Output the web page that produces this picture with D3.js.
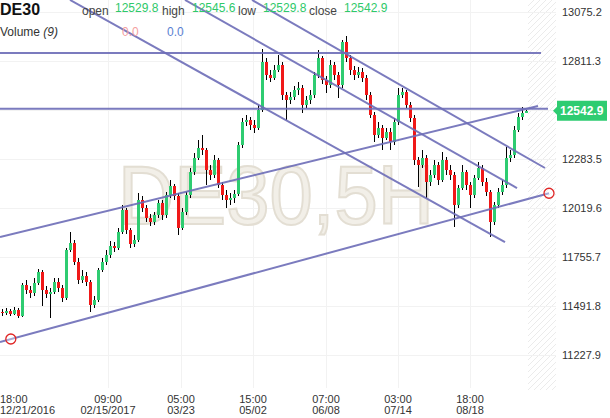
<!DOCTYPE html>
<html><head><meta charset="utf-8">
<script src="https://cdn.jsdelivr.net/npm/d3@7"></script>
<style>html,body{margin:0;padding:0;background:#fff;}svg{display:block;font-family:"Liberation Sans",Arial,sans-serif;}</style>
</head><body><svg id="c" width="610" height="418"></svg>
<script>
// ---- data (DE30, 5H candles) ----
const opens=[11460,11454,11465,11449,11470,11438,11605,11578,11562,11616,
11675,11578,11556,11567,11621,11589,11535,11793,11831,11729,
11632,11653,11621,11497,11524,11686,11729,11766,11815,11804,
11890,12009,11901,11826,11847,12063,12020,11966,11944,11982,
12047,11982,12090,12138,12084,11912,11998,12090,12213,12289,
12343,12332,12224,12197,12278,12143,12090,12063,12073,12095,
12359,12483,12494,12467,12450,12547,12806,12736,12720,12763,
12790,12628,12601,12617,12655,12666,12574,12601,12628,12736,
12827,12709,12682,12790,12736,12682,12914,12827,12763,12736,
12752,12720,12628,12520,12413,12450,12397,12429,12375,12483,
12628,12644,12574,12504,12278,12251,12289,12160,12197,12251,
12170,12278,12224,12197,12036,12127,12213,12143,12090,12181,
12235,12160,12106,11944,12036,12106,12143,12289,12305,12440,
12510,12529.8];
const highs=[11476,11481,11476,11486,11481,11616,11632,11600,11643,11691,
11686,11600,11589,11643,11643,11605,11804,11890,11847,11750,
11686,11675,11632,11546,11696,11750,11793,11842,11837,11912,
12036,12020,11912,11874,12100,12084,12036,11987,11998,12063,
12063,12106,12170,12149,12100,12020,12106,12235,12316,12386,
12413,12343,12251,12305,12289,12160,12117,12100,12117,12375,
12504,12520,12510,12494,12574,12876,12827,12763,12790,12844,
12806,12644,12644,12677,12698,12682,12623,12655,12752,12871,
12838,12731,12817,12806,12752,12924,12946,12844,12784,12779,
12774,12736,12644,12537,12483,12467,12450,12450,12504,12666,
12666,12655,12590,12520,12294,12332,12305,12224,12278,12267,
12321,12294,12251,12213,12143,12251,12224,12160,12197,12267,
12251,12181,12117,12052,12127,12170,12348,12332,12461,12531,
12564,12545.6];
const lows=[11438,11443,11438,11443,11427,11433,11556,11535,11546,11605,
11492,11535,11427,11556,11567,11513,11524,11783,11713,11610,
11616,11600,11460,11481,11513,11675,11713,11750,11783,11793,
11880,11880,11804,11810,11837,11998,11944,11923,11928,11966,
11955,11966,12073,12063,11874,11901,11982,12073,12197,12278,
12305,12143,12170,12181,12127,12063,12020,12036,12047,12084,
12343,12461,12440,12424,12440,12537,12709,12698,12709,12752,
12601,12494,12580,12601,12628,12531,12558,12580,12612,12720,
12687,12639,12666,12709,12612,12666,12806,12736,12709,12720,
12698,12601,12504,12375,12397,12332,12386,12332,12359,12467,
12612,12558,12483,12251,12133,12235,12073,12138,12181,12143,
12160,12197,12170,11917,12020,12117,12117,12020,12073,12170,
12138,12084,11863,11928,12020,12090,12127,12267,12289,12429,
12494,12529.8];
const closes=[11454,11465,11449,11470,11438,11605,11578,11562,11616,11675,
11578,11556,11567,11621,11589,11535,11793,11831,11729,11632,
11653,11621,11497,11524,11686,11729,11766,11815,11804,11890,
12009,11901,11826,11847,12063,12020,11966,11944,11982,12047,
11982,12090,12138,12084,11912,11998,12090,12213,12289,12343,
12332,12224,12197,12278,12143,12090,12063,12073,12095,12359,
12483,12494,12467,12450,12547,12806,12736,12720,12763,12790,
12628,12601,12617,12655,12666,12574,12601,12628,12736,12827,
12709,12682,12790,12736,12682,12914,12827,12763,12736,12752,
12720,12628,12520,12413,12450,12397,12429,12375,12483,12628,
12644,12574,12504,12278,12251,12289,12160,12197,12251,12170,
12278,12224,12197,12036,12127,12213,12143,12090,12181,12235,
12160,12106,11944,12036,12106,12143,12289,12305,12440,12510,
12531,12542.9];

const quoteLabels=["open","high","low","close"];
const quoteValues=[12529.8,12545.6,12529.8,12542.9];
const volumeValues=[0.0,0.0];
const yTicks=[13075.2,12811.3,12547.4,12283.5,12019.6,11755.7,11491.8,11227.9];
const xTickIdx=[0,26.5,44.75,62.75,81,99,117];
const xTickTime=["18:00","09:00","05:00","15:00","07:00","03:00","18:00"];
const xTickDate=["12/21/2016","02/15/2017","03/23","05/02","06/08","07/14","08/18"];
// drawn lines, endpoints as [candle index, price]
const hLevels=[12854,12554];
const hLevelEnds=[134.75,136.5];
const trendLines=[
  [[-0.5,11863],[134,12569]],
  [[-0.5,11298],[136.75,12099]],
  [[17,13140],[125.75,11836]],
  [[45.75,13140],[128.75,12127]],
  [[62.5,13140],[135.75,12235]]
];
const anchorPoints=[[2.2,11314],[136.75,12099]];
const lastPrice=12542.9;

// ---- drawing ----
const svg=d3.select("#c");
const plotR=556, plotB=390;
const x=d3.scaleLinear().domain([0,opens.length-1]).range([2,526]);
const y=d3.scaleLinear().domain([11227.9,13075.2]).range([355,12]);
const GREEN="#2ecc71", RED="#f01818", LINE="#6d6db8";

const defs=svg.append("defs");
const pat=defs.append("pattern").attr("id","hatch").attr("patternUnits","userSpaceOnUse")
  .attr("width",6).attr("height",6);
pat.append("path").attr("d","M-1,7 L7,-1 M-1,1 L1,-1 M5,7 L7,5").attr("stroke","#ebebeb").attr("stroke-width",1);
defs.append("clipPath").attr("id","plot").append("rect").attr("x",0).attr("y",0).attr("width",plotR).attr("height",plotB);

svg.append("rect").attr("width",610).attr("height",418).attr("fill","#fff");
// hatched future area
svg.append("rect").attr("x",x(131)+2).attr("y",0).attr("width",plotR-x(131)-2).attr("height",plotB).attr("fill","url(#hatch)");

// grid
svg.append("g").selectAll("line").data(yTicks).join("line")
  .attr("x1",0).attr("x2",plotR).attr("y1",d=>Math.round(y(d))+0.5).attr("y2",d=>Math.round(y(d))+0.5)
  .attr("stroke","#f2f2f2");
svg.append("g").selectAll("line").data(xTickIdx.slice(1)).join("line")
  .attr("x1",d=>Math.round(x(d))+0.5).attr("x2",d=>Math.round(x(d))+0.5).attr("y1",0).attr("y2",plotB-2)
  .attr("stroke","#f2f2f2");

// watermark
svg.append("text").attr("x",118).attr("y",224).attr("font-size",84)
  .attr("textLength",316).attr("lengthAdjust","spacingAndGlyphs")
  .attr("fill","#f2efe8").attr("stroke","#e3ded3").attr("stroke-width",2)
  .text("DE30,5H");

// candles
const cg=svg.append("g").attr("clip-path","url(#plot)").attr("shape-rendering","crispEdges");
const idx=d3.range(opens.length);
cg.selectAll("line.w").data(idx).join("line").attr("class","w")
  .attr("x1",i=>Math.round(x(i))+0.5).attr("x2",i=>Math.round(x(i))+0.5)
  .attr("y1",i=>y(highs[i])).attr("y2",i=>y(lows[i])).attr("stroke","#000").attr("stroke-width",1);
cg.selectAll("rect.b").data(idx).join("rect").attr("class","b")
  .attr("x",i=>Math.round(x(i))-1).attr("width",3)
  .attr("y",i=>y(Math.max(opens[i],closes[i])))
  .attr("height",i=>Math.max(1,Math.abs(y(opens[i])-y(closes[i]))))
  .attr("fill",i=>closes[i]>=opens[i]?GREEN:RED);

// drawn lines
const lg=svg.append("g").attr("clip-path","url(#plot)");
lg.selectAll("line.h").data(hLevels).join("line").attr("class","h")
  .attr("x1",x(-0.5)).attr("x2",(d,i)=>x(hLevelEnds[i])).attr("y1",d=>y(d)).attr("y2",d=>y(d))
  .attr("stroke",LINE).attr("stroke-width",2).attr("opacity",0.9);
lg.selectAll("line.t").data(trendLines).join("line").attr("class","t")
  .attr("x1",d=>x(d[0][0])).attr("y1",d=>y(d[0][1])).attr("x2",d=>x(d[1][0])).attr("y2",d=>y(d[1][1]))
  .attr("stroke",LINE).attr("stroke-width",2).attr("opacity",0.9);
svg.append("g").selectAll("circle").data(anchorPoints).join("circle")
  .attr("cx",d=>x(d[0])).attr("cy",d=>y(d[1])).attr("r",5)
  .attr("fill","rgba(255,255,255,0.35)").attr("stroke","#e02424").attr("stroke-width",1.3);

// y axis labels (the one under the last-price tag is hidden, as in the source)
const ly=y(lastPrice);
svg.append("g").selectAll("text").data(yTicks.filter(d=>Math.abs(y(d)-ly)>12)).join("text")
  .attr("x",562).attr("y",d=>y(d)+4).attr("font-size",11).attr("fill","#333").text(d=>d.toFixed(1));
// last price tag
svg.append("path").attr("d",`M553,${ly} L557,${ly-4} L557,${ly-10} L607,${ly-10} L607,${ly+10} L557,${ly+10} L557,${ly+4} Z`).attr("fill",GREEN);
svg.append("text").attr("x",560).attr("y",ly+4.5).attr("font-size",12).attr("font-weight","bold").attr("fill","#fff").text(lastPrice.toFixed(1));

// x axis labels
const xl=svg.append("g").attr("font-size",11).attr("fill","#333");
xTickIdx.forEach((d,i)=>{
  const t=xl.append("text").attr("x",i===0?0:x(d)).attr("text-anchor",i===0?"start":"middle");
  t.append("tspan").attr("x",i===0?0:x(d)).attr("y",402.5).text(xTickTime[i]);
  t.append("tspan").attr("x",i===0?0:x(d)).attr("y",413.5).text(xTickDate[i]);
});

// header
svg.append("text").attr("x",0).attr("y",15).attr("font-size",16).attr("font-weight","bold").attr("fill","#111").text("DE30");
const labX=[82,162,238,309], valX=[115,192,263,344];
quoteLabels.forEach((l,i)=>{
  svg.append("text").attr("x",labX[i]).attr("y",15).attr("font-size",12).attr("fill","#444").text(l);
  svg.append("text").attr("x",valX[i]).attr("y",12).attr("font-size",12).attr("fill","#2fc96a").text(quoteValues[i].toFixed(1));
});
const vt=svg.append("text").attr("x",0).attr("y",36).attr("font-size",12).attr("fill","#333");
vt.append("tspan").text("Volume ");
vt.append("tspan").attr("font-style","italic").text("(9)");
svg.append("text").attr("x",122).attr("y",36).attr("font-size",12).attr("fill","#f5a0a0").text(volumeValues[0].toFixed(1));
svg.append("text").attr("x",167).attr("y",36).attr("font-size",12).attr("fill","#5a7fd2").text(volumeValues[1].toFixed(1));
</script></body></html>
